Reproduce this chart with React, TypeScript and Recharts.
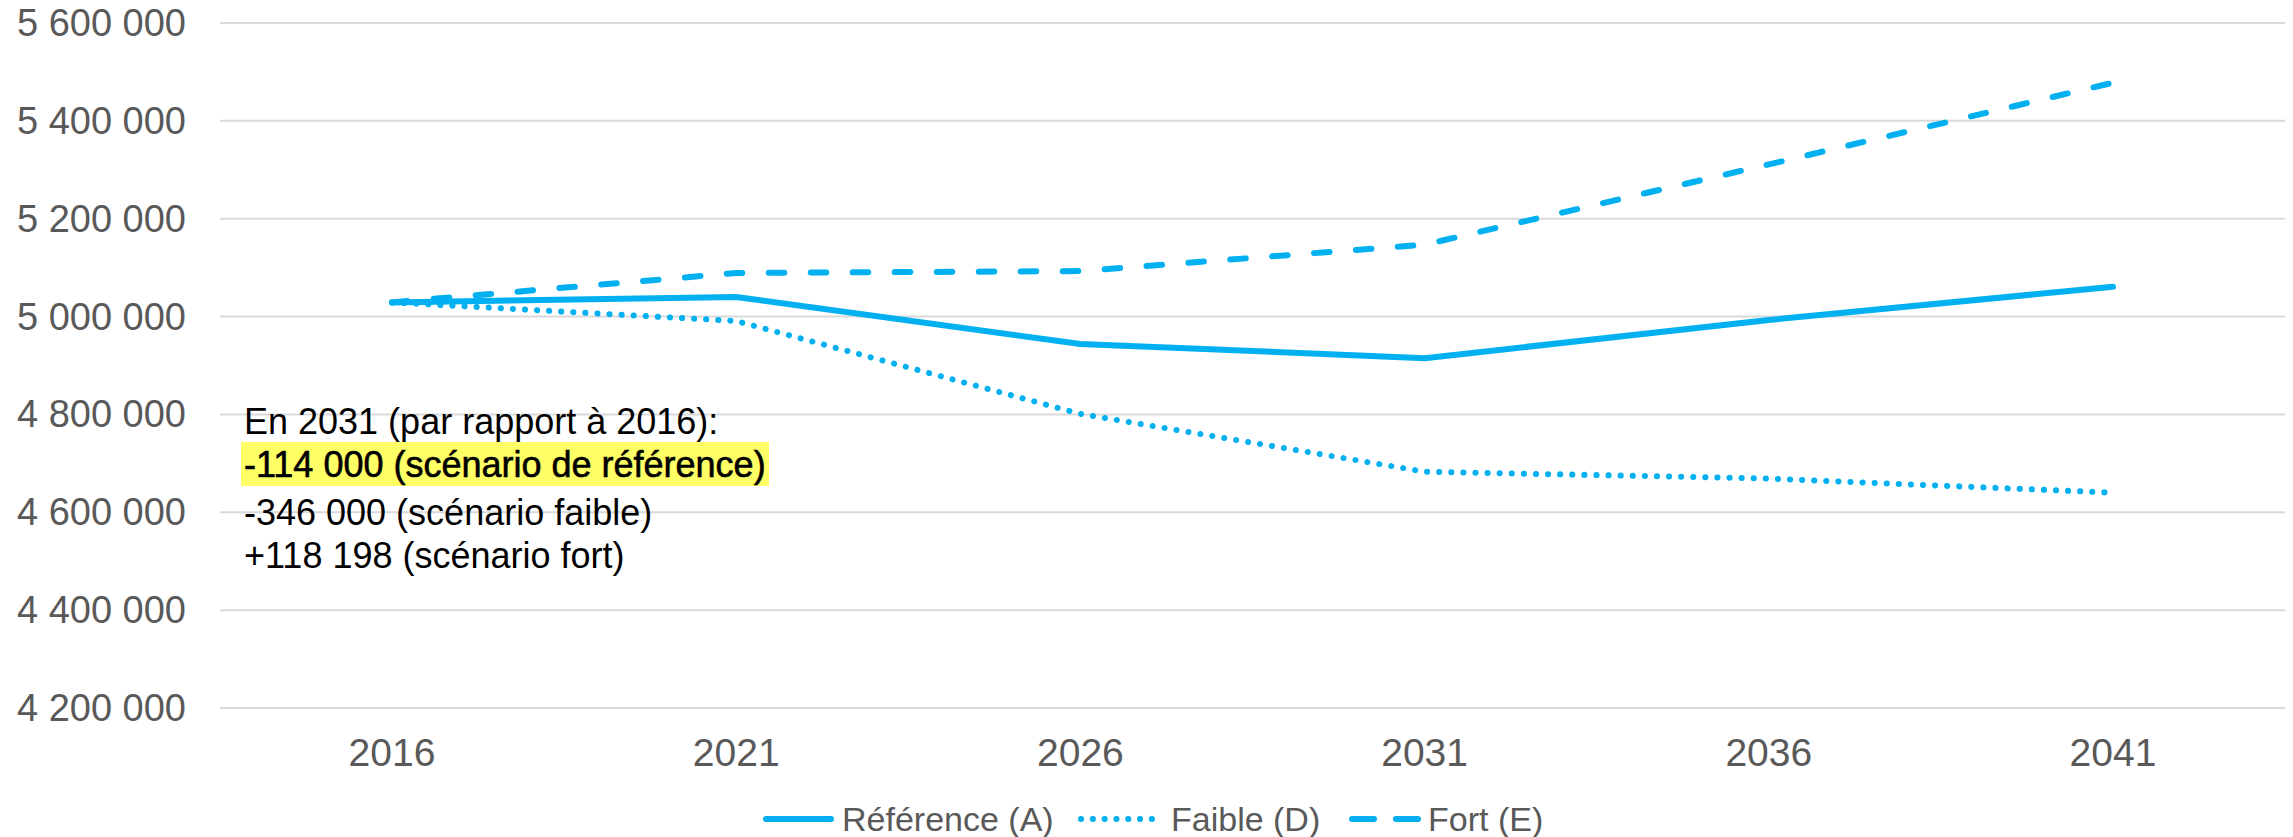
import React from 'react';
import { LineChart, Line, XAxis, YAxis, CartesianGrid, Legend } from 'recharts';

const years = ['2016', '2021', '2026', '2031', '2036', '2041'];
const referenceA = [5029000, 5040000, 4944000, 4915000, 4993000, 5061000];
const faibleD = [5029000, 4991000, 4801000, 4683000, 4669000, 4640000];
const fortE = [5029000, 5089000, 5093000, 5147000, 5311000, 5478000];
const yTicks = [4200000, 4400000, 4600000, 4800000, 5000000, 5200000, 5400000, 5600000];
const seriesNames = ['Référence (A)', 'Faible (D)', 'Fort (E)'];
const noteLines = [
  'En 2031 (par rapport à 2016):',
  '-114 000 (scénario de référence)',
  '-346 000 (scénario faible)',
  '+118 198 (scénario fort)',
];
const noteBaselines = [434, 477, 525, 568];

const rows = years.map((y, i) => ({ year: y, a: referenceA[i], d: faibleD[i], e: fortE[i] }));

const FONT = '"Liberation Sans", Arial, sans-serif';
const BLUE = '#00B0F0';
const GREY = '#595959';

const fmt = (v: number) => String(v).replace(/\B(?=(\d{3})+(?!\d))/g, ' ');

const XTick = (props: any) => {
  const { x, y, payload } = props;
  return (
    <text x={x} y={y + 58} textAnchor="middle" fill={GREY} fontSize={39} fontFamily={FONT}>
      {payload.value}
    </text>
  );
};

const YTick = (props: any) => {
  const { x, y, payload } = props;
  return (
    <text x={x - 34} y={y + 13} textAnchor="end" fill={GREY} fontSize={38} fontFamily={FONT}>
      {fmt(payload.value)}
    </text>
  );
};

const LegendContent = () => (
  <div style={{ width: 2293, height: 50 }}>
    <svg width={2293} height={50} style={{ display: 'block' }}>
      <line x1={766} x2={831} y1={32} y2={32} stroke={BLUE} strokeWidth={6} strokeLinecap="round" />
      <text x={842} y={44} fill={GREY} fontSize={34} fontFamily={FONT}>{seriesNames[0]}</text>
      <line x1={1081} x2={1163} y1={32} y2={32} stroke={BLUE} strokeWidth={6} strokeLinecap="round" strokeDasharray="0.1 11.7" />
      <text x={1171} y={44} fill={GREY} fontSize={34} fontFamily={FONT}>{seriesNames[1]}</text>
      <line x1={1352} x2={1418} y1={32} y2={32} stroke={BLUE} strokeWidth={6} strokeLinecap="round" strokeDasharray="22 22" />
      <text x={1428} y={44} fill={GREY} fontSize={34} fontFamily={FONT}>{seriesNames[2]}</text>
    </svg>
  </div>
);

export default function App() {
  return (
    <div style={{ position: 'absolute', left: 0, top: 0, width: 2293, height: 837, background: '#fff' }}>
      <LineChart width={2293} height={837} data={rows} margin={{ top: 23, right: 8, left: 0, bottom: 0 }}>
        <CartesianGrid vertical={false} stroke="#D9D9D9" strokeWidth={2} />
        <XAxis
          dataKey="year"
          axisLine={false}
          tickLine={false}
          tickSize={0}
          tickMargin={0}
          interval={0}
          padding={{ left: 172, right: 172 }}
          height={79}
          tick={<XTick />}
        />
        <YAxis
          type="number"
          domain={[4200000, 5600000]}
          ticks={yTicks}
          width={220}
          axisLine={false}
          tickLine={false}
          tickSize={0}
          tickMargin={0}
          tick={<YTick />}
        />
        <Legend
          verticalAlign="bottom"
          height={50}
          content={<LegendContent />}
          wrapperStyle={{ left: 0, width: 2293 }}
        />
        <Line dataKey="a" name={seriesNames[0]} stroke={BLUE} strokeWidth={6} dot={false} activeDot={false} strokeLinecap="round" strokeLinejoin="round" isAnimationActive={false} />
        <Line dataKey="d" name={seriesNames[1]} stroke={BLUE} strokeWidth={6} dot={false} activeDot={false} strokeLinecap="round" strokeDasharray="0.1 12" isAnimationActive={false} />
        <Line dataKey="e" name={seriesNames[2]} stroke={BLUE} strokeWidth={6} dot={false} activeDot={false} strokeLinecap="round" strokeDasharray="15.5 26.5" isAnimationActive={false} />
        <g>
          <rect x={241} y={442} width={528} height={44} fill="#FFFF66" />
          {noteLines.map((t, i) => (
            <text
              key={t}
              x={244}
              y={noteBaselines[i]}
              fill="#000"
              fontSize={36}
              fontFamily={FONT}
              stroke={i === 1 ? '#000' : 'none'}
              strokeWidth={i === 1 ? 0.6 : 0}
            >
              {t}
            </text>
          ))}
        </g>
      </LineChart>
    </div>
  );
}
